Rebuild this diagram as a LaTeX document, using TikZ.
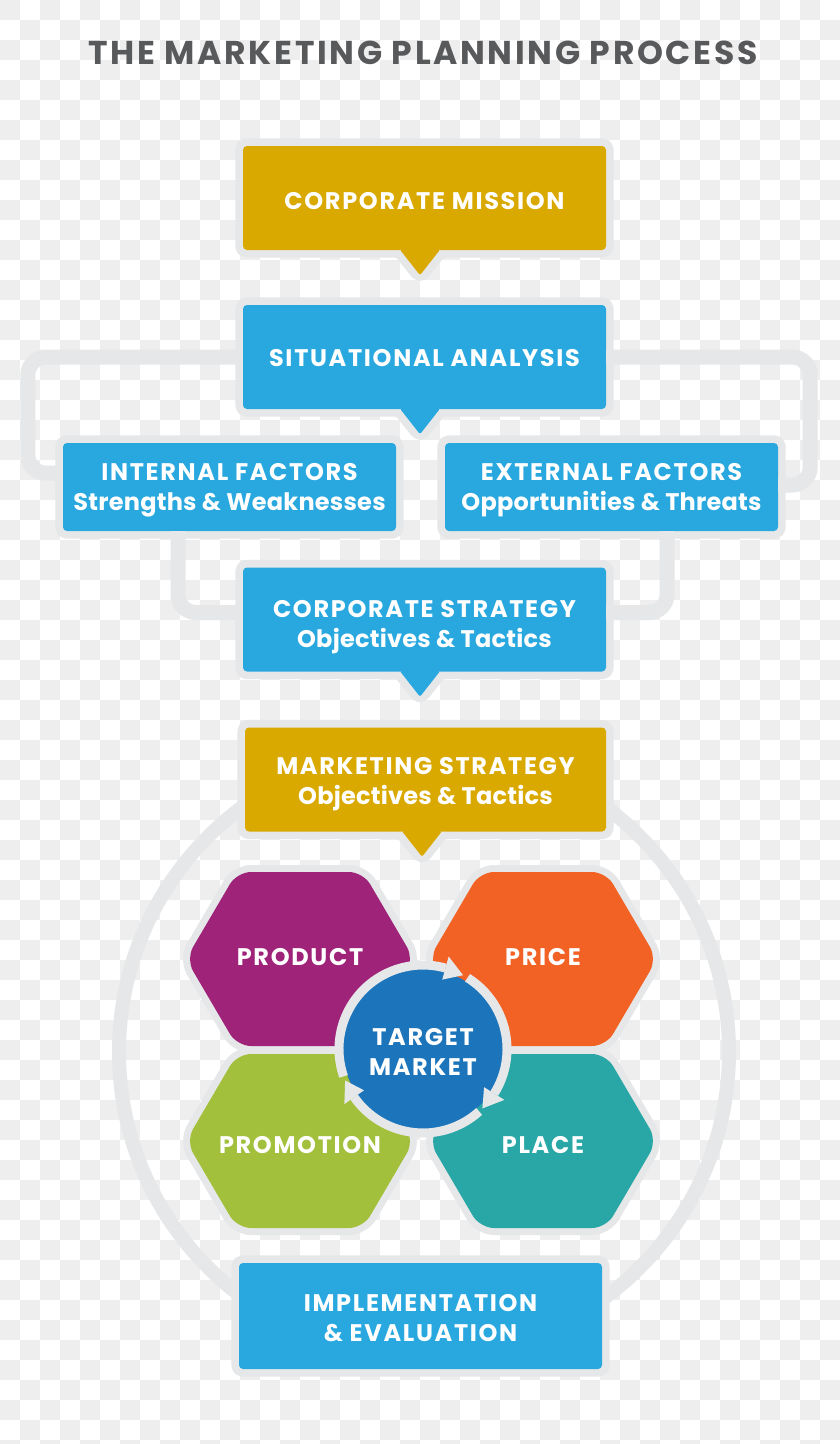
\documentclass[tikz,border=0pt]{standalone}
\usepackage{fontspec}
\setmainfont{Poppins}
\usetikzlibrary{calc}
\pgfdeclarelayer{chk}
\pgfdeclarelayer{bgl}
\pgfsetlayers{chk,bgl,main}
\definecolor{gold}{HTML}{DAA900}
\definecolor{sky}{HTML}{29A8E0}
\definecolor{tmblue}{HTML}{1C75BB}
\definecolor{purp}{HTML}{9E2379}
\definecolor{orng}{HTML}{F26224}
\definecolor{lime}{HTML}{A2C03B}
\definecolor{tealc}{HTML}{28A7A6}
\definecolor{bord}{HTML}{E6E7E8}
\definecolor{chkc}{HTML}{EEEEEE}
\definecolor{ttl}{HTML}{58595B}
\newcommand\capsfont{\bfseries\fontsize{24}{30}\selectfont\addfontfeatures{LetterSpace=7}}
\newcommand\sub[1]{{\addfontfeatures{LetterSpace=1}#1}}
% pushes a node's text block down by #1 pt
\newcommand\dn[1]{\rule{0pt}{\dimexpr 17pt+#1pt*2\relax}}
\tikzset{
  box/.style={rectangle, rounded corners=4pt, fill=#1, text=white, align=center,
    inner sep=0pt, minimum width=363pt, minimum height=104pt, font=\capsfont},
  rim/.style={draw=bord, line width=15pt, line join=round, rounded corners=4pt},
  link/.style={draw=bord, line width=15pt, rounded corners=18pt},
  hexfill/.style={fill=#1, preaction={draw=bord, line width=14pt, line join=round}},
  lbl/.style={text=white, align=center, inner sep=0pt, font=\capsfont},
  ring/.style={draw=bord, line width=9pt},
}
\newcommand\boxrim[1]{\begin{pgfonlayer}{bgl}\path[rim] (#1.north west) rectangle (#1.south east);\end{pgfonlayer}}
\newcommand\callrim[3]{%
  \begin{pgfonlayer}{bgl}
  \path[rim] (#1.north west) -- (#1.north east) -- (#1.south east)
    -- ($(#1.south)+(#2+20,0)$) -- ($(#1.south)+(#2,-25)$) -- ($(#1.south)+(#2-20,0)$)
    -- (#1.south west) -- cycle;
  \end{pgfonlayer}
  \fill[#3, rounded corners=1.5pt] ($(#1.south)+(#2+20,0.5)$) -- ($(#1.south)+(#2,-25)$) -- ($(#1.south)+(#2-20,0.5)$) -- cycle;}
\newcommand\hexat[2]{%
  \begin{pgfonlayer}{bgl}
  \path[hexfill=#2, rounded corners=14pt] ($(#1)+(-114,0)$) -- ($(#1)+(-63,-87)$) -- ($(#1)+(63,-87)$)
    -- ($(#1)+(114,0)$) -- ($(#1)+(63,87)$) -- ($(#1)+(-63,87)$) -- cycle;
  \end{pgfonlayer}}
\begin{document}
\begin{tikzpicture}[x=1pt,y=1pt]
\useasboundingbox (0,0) rectangle (840,-1444);
\begin{pgfonlayer}{chk}
\fill[white] (0,0) rectangle (840,-1444);
\foreach \i in {0,...,41}{\foreach \j in {0,...,72}{%
  \pgfmathtruncatemacro\p{mod(\i+\j,2)}%
  \ifnum\p=0 \fill[chkc] (20*\i,-20*\j) rectangle ++(20,-20);\fi}}
\end{pgfonlayer}

% title
\node[text=ttl, inner sep=0pt, font=\bfseries\fontsize{33}{40}\selectfont\addfontfeatures{LetterSpace=8}] (title) at (423,-52.5) {THE MARKETING PLANNING PROCESS};

% big outer ring (marketing mix loop)
\draw[bord, line width=14pt] (424,-1052) circle[radius=305];

% boxes
\node[box=gold] (mission) at (424.5,-198) {\dn{3}CORPORATE MISSION};
\callrim{mission}{-4.5}{gold}
\node[box=sky] (situ) at (424.5,-357) {\dn{1}SITUATIONAL ANALYSIS};
\callrim{situ}{-4.5}{sky}
\node[box=sky, minimum width=333pt, minimum height=88pt] (internal) at (229.5,-487) {\dn{3}INTERNAL FACTORS\\\sub{Strengths \& Weaknesses}};
\boxrim{internal}
\node[box=sky, minimum width=333pt, minimum height=88pt] (external) at (611.5,-487) {\dn{3}EXTERNAL FACTORS\\\sub{Opportunities \& Threats}};
\boxrim{external}
\node[box=sky] (corp) at (424.5,-619.5) {\dn{8}CORPORATE STRATEGY\\\sub{Objectives \& Tactics}};
\callrim{corp}{-4.5}{sky}
\node[box=gold, minimum width=361pt] (market) at (425.5,-779.5) {\dn{5}MARKETING STRATEGY\\\sub{Objectives \& Tactics}};
\callrim{market}{-3.5}{gold}
\node[box=sky, minimum height=106pt] (impl) at (420.5,-1316) {\dn{2.5}IMPLEMENTATION\\\& EVALUATION};
\boxrim{impl}

% brackets
\draw[link] (situ.west) -- ++(-215,0) |- ($(internal.west)+(0,14)$);
\draw[link] (situ.east) -- ++(204,0) |- ($(external.east)+(0,2)$);
\draw[link] ($(internal.south)+(-51.5,0)$) |- ($(corp.west)+(0,7)$);
\draw[link] ($(external.south)+(55.5,0)$) |- ($(corp.east)+(0,7)$);

% hexagons
\coordinate (hP) at (300,-959);
\coordinate (hR) at (543,-959);
\coordinate (hM) at (300,-1141);
\coordinate (hL) at (543,-1141);
\hexat{hP}{purp}
\hexat{hR}{orng}
\hexat{hM}{lime}
\hexat{hL}{tealc}
\node[lbl] (product) at ($(hP)+(0,2)$) {PRODUCT};
\node[lbl] (price) at ($(hR)+(0,2)$) {PRICE};
\node[lbl] (promotion) at ($(hM)+(0,-4)$) {PROMOTION};
\node[lbl] (place) at ($(hL)+(0,-4)$) {PLACE};

% target market
\node[circle, fill=tmblue, minimum size=160pt, inner sep=0pt, text=white, align=center,
  font=\capsfont] (tm) at (423,-1049) {\dn{3}TARGET\\MARKET};
\draw[ring] ($(tm.center)+(199:84)$) arc[start angle=199, end angle=74.5, radius=84];
\draw[ring] ($(tm.center)+(58:84)$) arc[start angle=58, end angle=-32, radius=84];
\draw[ring] ($(tm.center)+(-48:84)$) arc[start angle=-48, end angle=-145, radius=84];
\foreach \t in {61.5,-45,-158}{
  \fill[bord] ($(tm.center)+(\t:84)$) -- ($(tm.center)+(\t+13:72)$) -- ($(tm.center)+(\t+13:96)$) -- cycle;}
\end{tikzpicture}
\end{document}
